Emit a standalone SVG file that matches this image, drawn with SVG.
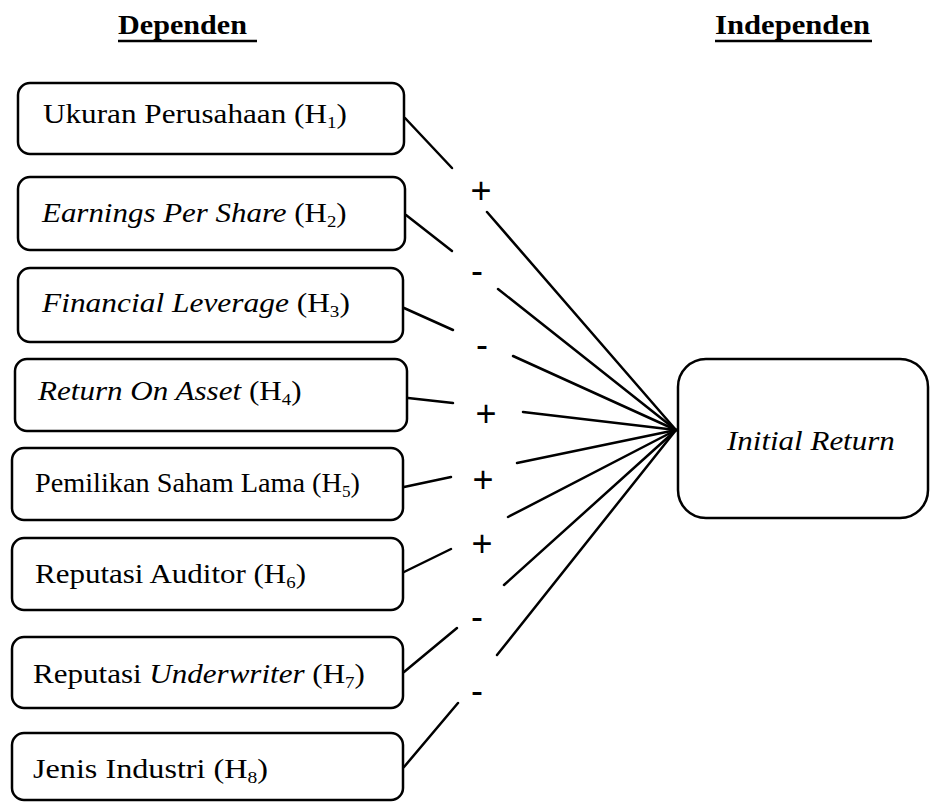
<svg xmlns="http://www.w3.org/2000/svg" width="931" height="802" viewBox="0 0 931 802">
<style>
.box{fill:#fff;stroke:#000;stroke-width:2.5}
.lbl{font-family:"Liberation Serif","Times New Roman",serif;font-size:28px;fill:#000}
.hdr{font-family:"Liberation Serif","Times New Roman",serif;font-size:28px;font-weight:bold;fill:#000}
.sub{font-size:17px}
.i{font-style:italic}
.sign{font-family:"Liberation Sans",Arial,sans-serif;font-size:36px;text-anchor:middle;fill:#000}
#connectors line{stroke:#000;stroke-width:2.5;stroke-linecap:round}
.ul{stroke:#000;stroke-width:2.5}
</style>
<rect width="931" height="802" fill="#fff"/>
<g id="headers">
<text class="hdr" transform="translate(118,34) scale(1.077,1)">Dependen</text>
<line class="ul" x1="118" y1="41" x2="257" y2="41"/>
<text class="hdr" transform="translate(715,34) scale(1.095,1)">Independen</text>
<line class="ul" x1="715" y1="41" x2="872" y2="41"/>
</g>
<g id="connectors">
<line x1="405" y1="118" x2="452" y2="168"/>
<line x1="487" y1="212" x2="676" y2="430"/>
<line x1="406" y1="215" x2="452" y2="251"/>
<line x1="498" y1="289" x2="676" y2="430"/>
<line x1="404" y1="308" x2="453" y2="330"/>
<line x1="513" y1="356" x2="676" y2="430"/>
<line x1="408" y1="398" x2="453" y2="403"/>
<line x1="523" y1="412" x2="676" y2="430"/>
<line x1="404" y1="487" x2="451" y2="477"/>
<line x1="517" y1="463" x2="676" y2="430"/>
<line x1="404" y1="572" x2="451" y2="549"/>
<line x1="508" y1="517" x2="676" y2="430"/>
<line x1="404" y1="672" x2="457" y2="628"/>
<line x1="504" y1="585" x2="676" y2="430"/>
<line x1="404" y1="767" x2="458" y2="703"/>
<line x1="497" y1="655" x2="676" y2="430"/>
<text class="sign" x="481" y="203">+</text>
<text class="sign" x="477" y="283">-</text>
<text class="sign" x="482" y="357">-</text>
<text class="sign" x="486" y="426">+</text>
<text class="sign" x="483" y="492">+</text>
<text class="sign" x="482" y="556">+</text>
<text class="sign" x="477" y="629">-</text>
<text class="sign" x="477" y="703">-</text>
</g>
<g id="h1">
<rect class="box" x="18" y="83" width="386" height="71" rx="12"/>
<text class="lbl" transform="translate(43,123) scale(1.114,1)">Ukuran Perusahaan (H<tspan class="sub" dy="5">1</tspan><tspan dy="-5">)</tspan></text>
</g>
<g id="h2">
<rect class="box" x="18" y="177" width="387" height="73" rx="12"/>
<text class="lbl" transform="translate(42,222) scale(1.105,1)"><tspan class="i">Earnings Per Share</tspan> (H<tspan class="sub" dy="5">2</tspan><tspan dy="-5">)</tspan></text>
</g>
<g id="h3">
<rect class="box" x="18" y="268" width="385" height="74" rx="12"/>
<text class="lbl" transform="translate(42,312) scale(1.122,1)"><tspan class="i">Financial Leverage</tspan> (H<tspan class="sub" dy="5">3</tspan><tspan dy="-5">)</tspan></text>
</g>
<g id="h4">
<rect class="box" x="15" y="359" width="392" height="72" rx="12"/>
<text class="lbl" transform="translate(38,400) scale(1.11,1)"><tspan class="i">Return On Asset</tspan> (H<tspan class="sub" dy="5">4</tspan><tspan dy="-5">)</tspan></text>
</g>
<g id="h5">
<rect class="box" x="12" y="448" width="391" height="72" rx="12"/>
<text class="lbl" transform="translate(35,492) scale(1.01,1)">Pemilikan Saham Lama (H<tspan class="sub" dy="5">5</tspan><tspan dy="-5">)</tspan></text>
</g>
<g id="h6">
<rect class="box" x="12" y="538" width="391" height="72" rx="12"/>
<text class="lbl" transform="translate(35,583) scale(1.107,1)">Reputasi Auditor (H<tspan class="sub" dy="5">6</tspan><tspan dy="-5">)</tspan></text>
</g>
<g id="h7">
<rect class="box" x="12" y="637" width="391" height="71" rx="12"/>
<text class="lbl" transform="translate(33,683) scale(1.109,1)">Reputasi <tspan class="i">Underwriter</tspan> (H<tspan class="sub" dy="5">7</tspan><tspan dy="-5">)</tspan></text>
</g>
<g id="h8">
<rect class="box" x="12" y="733" width="391" height="67" rx="12"/>
<text class="lbl" transform="translate(33,778) scale(1.15,1)">Jenis Industri (H<tspan class="sub" dy="5">8</tspan><tspan dy="-5">)</tspan></text>
</g>
<g id="initial-return">
<rect class="box" x="678" y="359" width="250" height="159" rx="28"/>
<text class="lbl i" transform="translate(727,450) scale(1.107,1)">Initial Return</text>
</g>
</svg>
